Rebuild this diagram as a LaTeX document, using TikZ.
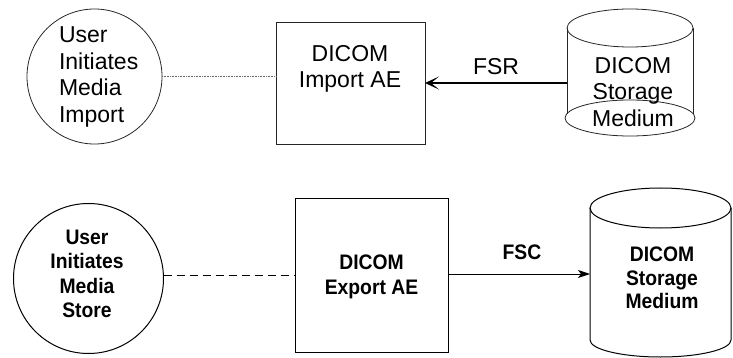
\documentclass[tikz,border=0pt]{standalone}
\usepackage{fontspec}
\setmainfont{Liberation Sans}
\newfontfamily\condbold{Liberation Sans}[FakeStretch=0.92]
\usetikzlibrary{arrows.meta}
\begin{document}
\begin{tikzpicture}[x=1pt,y=-1pt,
  topfont/.style={font=\fontsize{23}{26.5}\selectfont},
  botfont/.style={font=\condbold\bfseries\fontsize{21}{24.5}\selectfont},
  txt/.style={inner sep=0pt, outer sep=0pt, anchor=north, align=center},
  thinline/.style={line width=0.8pt, draw=black!85},
  botline/.style={line width=1pt, draw=black},
  dotline/.style={line width=0.7pt, draw=black!60, dash pattern=on 1pt off 0.6pt},
  dashline/.style={line width=1pt, draw=black, dash pattern=on 8pt off 5pt},
  thickarrow/.style={line width=2pt, draw=black, -{Stealth[length=14pt,width=13pt,inset=8pt]}},
  thinarrow/.style={line width=1pt, draw=black, -{Stealth[length=12pt,width=8pt,inset=3pt]}},
  ghost/.style={inner sep=0pt, outer sep=0pt}
]
\useasboundingbox (0,0) rectangle (733,358);

% ---------- top row ----------
\node[thinline, circle, minimum size=135pt, ghost] (c1) at (94.5,76.5) {};
\node[topfont, txt, anchor=north west, align=left] (c1t) at (59,27) {User\\Initiates\\Media\\Import};

\node[thinline, draw, rectangle, minimum width=149pt, minimum height=122pt, ghost] (imp) at (350.5,83) {};
\node[topfont, txt] (impt) at (350,45) {DICOM\\Import AE};

% cylinder 1
\draw[thinline] (630,28) ellipse [x radius=63pt, y radius=19pt];
\draw[thinline] (567,28) -- (567,113.6) (693,28) -- (693,113.6);
\draw[thinline] (630,118) ellipse [x radius=65pt, y radius=18pt];
\node[ghost, minimum width=126pt, minimum height=80pt] (st1) at (630,83) {};
\node[topfont, txt] (st1t) at (633,57) {DICOM\\Storage\\Medium};

\draw[dotline] (c1.east) -- (c1.east -| imp.west);
\draw[thickarrow] (st1.west) -- (imp.east);
\node[topfont, txt] (fsr) at (496,58) {FSR};

% ---------- bottom row ----------
\node[botline, draw, circle, minimum size=150pt, ghost] (c2) at (88.5,278.5) {};
\node[botfont, txt] (c2t) at (87,230) {User\\Initiates\\Media\\Store};

\node[botline, draw, rectangle, minimum width=153pt, minimum height=153pt, ghost] (exp) at (371.5,275.5) {};
\node[botfont, txt, font=\condbold\bfseries\fontsize{21}{25}\selectfont] (expt) at (371.5,255) {DICOM\\Export AE};

% cylinder 2
\draw[botline] (660.5,208) ellipse [x radius=70.5pt, y radius=20pt];
\draw[botline] (590,208) -- (590,340) arc[start angle=180, end angle=360, x radius=70.5pt, y radius=17pt] -- (731,208);
\node[ghost, minimum width=141pt, minimum height=100pt] (st2) at (660.5,274) {};
\node[botfont, txt, font=\condbold\bfseries\fontsize{21}{23.5}\selectfont] (st2t) at (662,247) {DICOM\\Storage\\Medium};

\draw[dashline] (c2.east |- exp.west) -- (exp.west);
\draw[thinarrow] (exp.east |- st2.west) -- (st2.west);
\node[botfont, txt] (fsc) at (522,245) {FSC};
\end{tikzpicture}
\end{document}
